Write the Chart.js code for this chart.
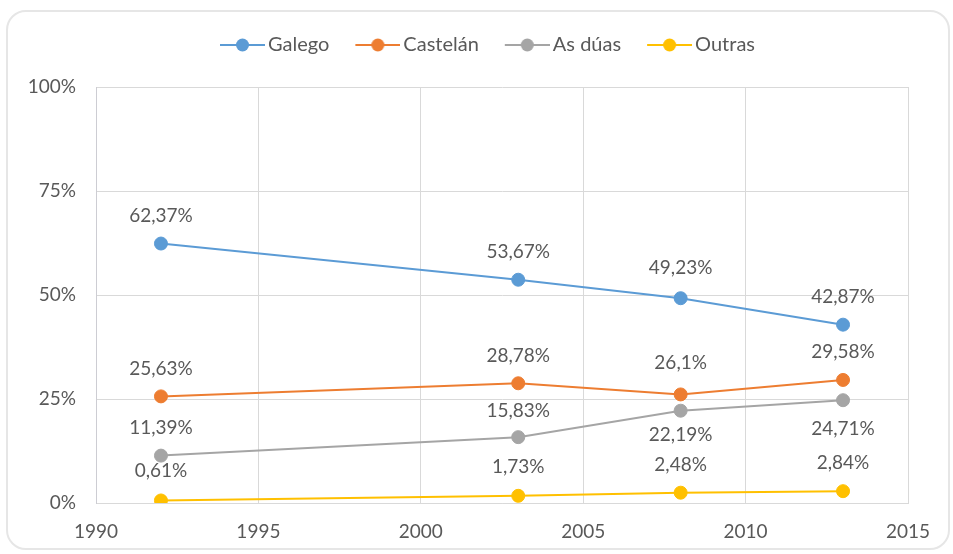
<!DOCTYPE html>
<html>
<head>
<meta charset="utf-8">
<script src="https://cdn.jsdelivr.net/npm/chart.js@4"></script>
<style>
  html, body { margin: 0; padding: 0; background: #ffffff; }
  #wrap { position: relative; width: 953px; height: 554px; overflow: hidden; }
  #card { position: absolute; left: 6px; top: 10px; width: 944px; height: 540px; box-sizing: border-box;
          border: 2px solid #e6e6e6; border-radius: 20px; }
  #c { position: absolute; left: 0; top: 0; }
</style>
</head>
<body>
<div id="wrap">
  <div id="card"></div>
  <canvas id="c" width="953" height="554"></canvas>
</div>
<script>
// ---- data ----
const years = [1992, 2003, 2008, 2013];
const seriesNames = ['Galego', 'Castelán', 'As dúas', 'Outras'];
const galego = [62.37, 53.67, 49.23, 42.87];
const castelan = [25.63, 28.78, 26.1, 29.58];
const asDuas = [11.39, 15.83, 22.19, 24.71];
const outras = [0.61, 1.73, 2.48, 2.84];
const xTicks = [1990, 1995, 2000, 2005, 2010, 2015];
const yTicks = [0, 25, 50, 75, 100];

// ---- styles ----
const colors = ['#5B9BD5', '#ED7D31', '#A5A5A5', '#FFC000'];
const labelOffsets = [
  [-28, -28, -30, -28],
  [-28, -27, -32, -28],
  [-28, -26, 24, 29],
  [-30, -29, -28, -28]
];
const FONT = 'Lato, "Open Sans", sans-serif';
const FS = 19;
const LFS = 20;
const TXT = '#595959';
const BOX = 56;           // legend box width
const ICON_W = BOX + 14;  // legend icon canvas width

function fmt(v) { return String(v).replace('.', ',') + '%'; }

function legendIcon(color) {
  const W = ICON_W, H = 16, L = 45;
  const c = document.createElement('canvas');
  c.width = W; c.height = H;
  const g = c.getContext('2d');
  g.strokeStyle = color; g.lineWidth = 2;
  g.beginPath(); g.moveTo(W - L, H / 2); g.lineTo(W, H / 2); g.stroke();
  g.fillStyle = color;
  g.beginPath(); g.arc(W - L / 2, H / 2, 6.5, 0, Math.PI * 2); g.fill();
  return c;
}
const icons = colors.map(legendIcon);

const allSeries = [galego, castelan, asDuas, outras];
const datasets = allSeries.map((vals, si) => ({
  label: seriesNames[si],
  data: years.map((x, i) => ({ x: x, y: vals[i] })),
  borderColor: colors[si],
  backgroundColor: colors[si],
  pointBackgroundColor: colors[si],
  pointBorderColor: colors[si],
  borderWidth: 2,
  pointRadius: 6.5,
  pointBorderWidth: 1,
  pointHoverRadius: 6.5,
  tension: 0,
  labelOffsets: labelOffsets[si]
}));

const pointLabels = {
  id: 'pointLabels',
  afterDatasetsDraw(chart) {
    const ctx = chart.ctx;
    ctx.save();
    ctx.font = FS + 'px ' + FONT;
    ctx.fillStyle = TXT;
    ctx.textAlign = 'center';
    ctx.textBaseline = 'middle';
    chart.data.datasets.forEach((ds, di) => {
      const meta = chart.getDatasetMeta(di);
      meta.data.forEach((el, i) => {
        ctx.fillText(fmt(ds.data[i].y), el.x, el.y + ds.labelOffsets[i]);
      });
    });
    ctx.restore();
  }
};

const legendPlace = {
  id: 'legendPlace',
  beforeInit(chart) {
    const lg = chart.legend;
    const orig = lg.fit;
    lg.fit = function () { orig.call(this); this.height = 87; };
  },
  afterLayout(chart) {
    const lg = chart.legend;
    const w = lg.width, h = lg.height;
    lg.left = 194; lg.right = lg.left + w;
    lg.top = 27; lg.bottom = lg.top + h;
  }
};

new Chart(document.getElementById('c'), {
  type: 'line',
  data: { datasets: datasets },
  plugins: [pointLabels, legendPlace],
  options: {
    responsive: false,
    animation: false,
    events: [],
    layout: { padding: { left: 0, right: 45, top: 0, bottom: 0 } },
    plugins: {
      tooltip: { enabled: false },
      legend: {
        position: 'top',
        align: 'start',
        labels: {
          usePointStyle: true,
          pointStyleWidth: BOX,
          boxHeight: LFS,
          padding: 8,
          color: TXT,
          font: { family: FONT, size: LFS },
          generateLabels(chart) {
            const items = Chart.defaults.plugins.legend.labels.generateLabels(chart);
            items.forEach((it, i) => { it.pointStyle = icons[i]; });
            return items;
          }
        }
      }
    },
    scales: {
      x: {
        type: 'linear',
        min: xTicks[0],
        max: xTicks[xTicks.length - 1],
        afterBuildTicks(scale) { scale.ticks = xTicks.map(v => ({ value: v })); },
        afterFit(scale) { scale.height = 51; },
        grid: { color: '#d9d9d9', lineWidth: 1, drawTicks: false, tickLength: 0 },
        border: { display: true, color: '#d9d9d9' },
        ticks: {
          color: TXT, font: { family: FONT, size: FS }, padding: 17,
          maxRotation: 0, autoSkip: false,
          callback: v => String(v)
        }
      },
      y: {
        type: 'linear',
        min: yTicks[0],
        max: yTicks[yTicks.length - 1],
        afterBuildTicks(scale) { scale.ticks = yTicks.map(v => ({ value: v })); },
        afterFit(scale) { scale.width = 96; },
        grid: { color: '#d9d9d9', lineWidth: 1, drawTicks: false, tickLength: 0 },
        border: { display: true, color: '#cdcdd3' },
        ticks: {
          color: TXT, font: { family: FONT, size: FS }, padding: 20,
          autoSkip: false,
          callback: v => v + '%'
        }
      }
    }
  }
});
</script>
</body>
</html>
